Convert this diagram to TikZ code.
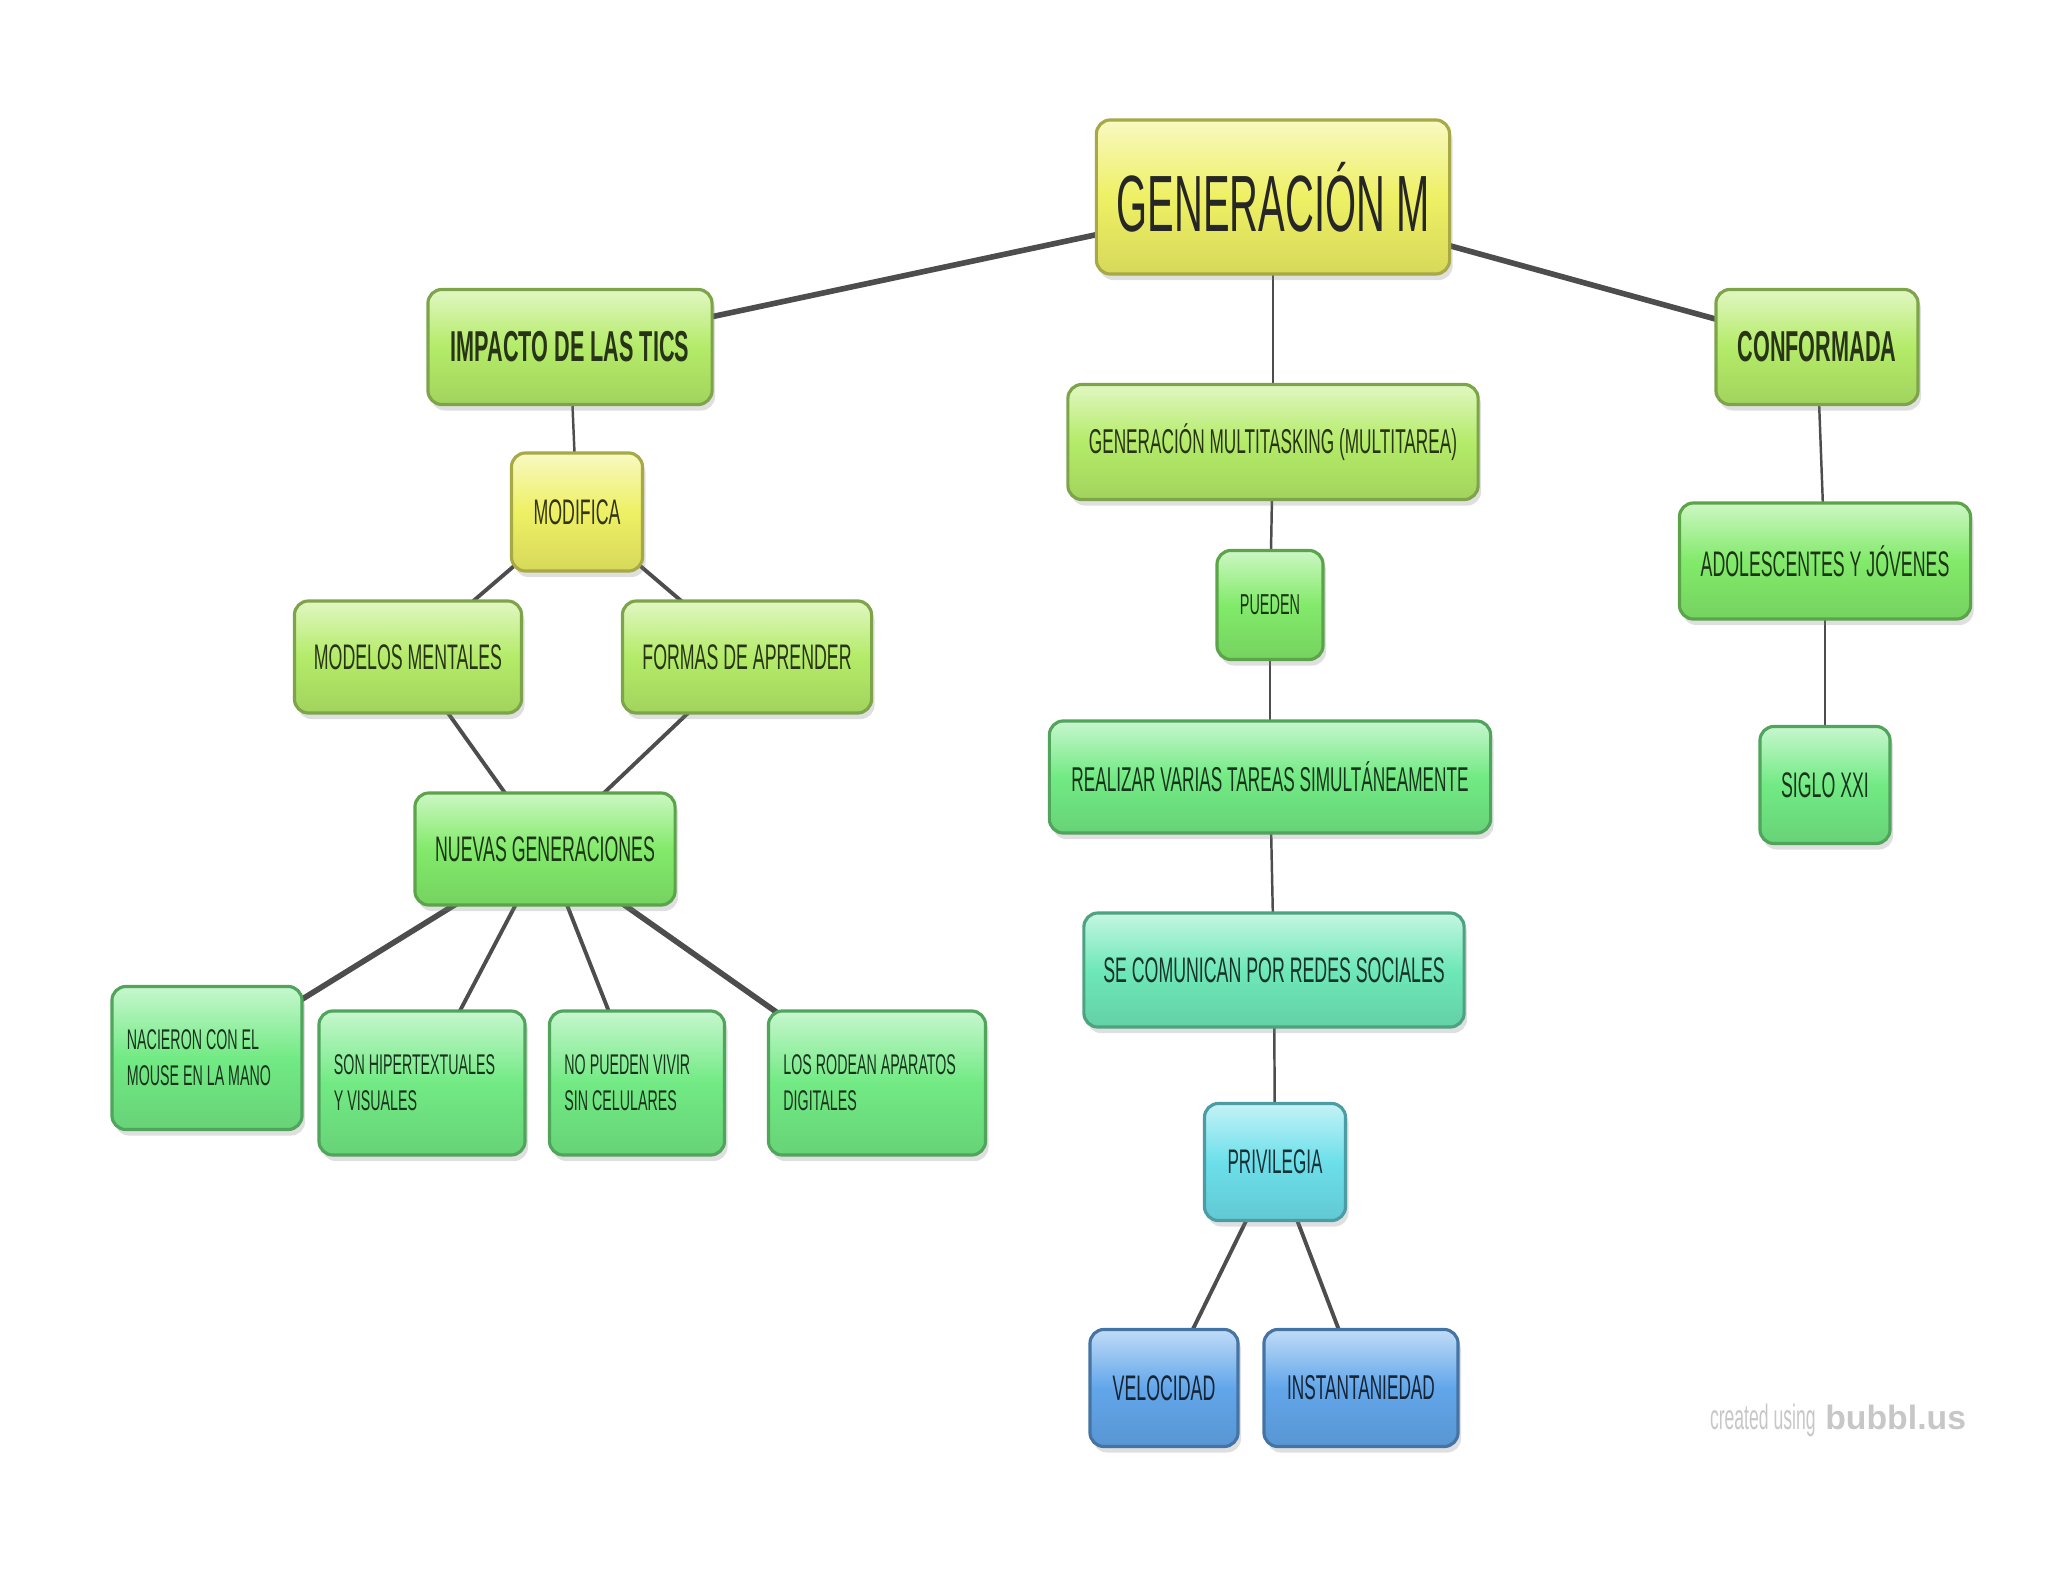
\documentclass[tikz,border=0pt]{standalone}
\usepackage{fontspec}
\setmainfont{Liberation Sans}
\newfontfamily\narrow{Liberation Sans}[FakeStretch=0.5]
\usetikzlibrary{backgrounds,shadows}

\definecolor{tyellow}{HTML}{EEF064}
\definecolor{tlime}{HTML}{B4EB68}
\definecolor{tgreen}{HTML}{82EA6A}
\definecolor{tleaf}{HTML}{72EA84}
\definecolor{tmint}{HTML}{6EE8B8}
\definecolor{tcyan}{HTML}{6CDFEA}
\definecolor{tblue}{HTML}{62A6EA}
\definecolor{linkgray}{HTML}{4D4D4D}

\tikzset{
  bubble/.style={draw=#1!70!black, line width=0.9pt, rounded corners=0.14cm,
    top color=#1!40!white, bottom color=#1!90!black, middle color=#1,
    drop shadow={opacity=0.25, shadow xshift=0.03cm, shadow yshift=-0.06cm},
    text=#1!22!black, inner sep=0pt, align=center,
    font=\narrow\fontsize{10.1}{11}\selectfont},
  level one/.style={font=\narrow\bfseries\fontsize{12.3}{14}\selectfont},
  leaf/.style={align=flush left, text width=#1, inner xsep=0.15cm,
    font=\narrow\fontsize{8.1}{10.3}\selectfont},
  link/.style={draw=linkgray, line width=1.1pt},
  thin link/.style={draw=linkgray, line width=0.7pt},
  heavy link/.style={draw=linkgray, line width=1.6pt}
}

\begin{document}
\begin{tikzpicture}[x=0.01cm, y=-0.01cm]
  \useasboundingbox (0,0) rectangle (2048,1582);

  % centre
  \node[bubble=tyellow, minimum width=3.53cm, minimum height=1.54cm,
        font=\narrow\fontsize{22.7}{26}\selectfont, text=black!85] (root) at (1273,197) {GENERACIÓN M};

  % rama izquierda
  \node[bubble=tlime, level one, minimum width=2.84cm, minimum height=1.15cm] (impacto) at (570,347) {IMPACTO DE LAS TICS};
  \node[bubble=tyellow, minimum width=1.31cm, minimum height=1.18cm] (modifica) at (577,512) {MODIFICA};
  \node[bubble=tlime, minimum width=2.27cm, minimum height=1.12cm] (modelos) at (408,657) {MODELOS MENTALES};
  \node[bubble=tlime, minimum width=2.49cm, minimum height=1.12cm] (formas) at (747,657) {FORMAS DE APRENDER};
  \node[bubble=tgreen, minimum width=2.60cm, minimum height=1.12cm] (nuevas) at (545,849) {NUEVAS GENERACIONES};
  \node[bubble=tleaf, leaf=1.60cm, minimum height=1.43cm] (nacieron) at (207,1058) {NACIERON CON EL\\MOUSE EN LA MANO};
  \node[bubble=tleaf, leaf=1.76cm, minimum height=1.44cm] (hipertext) at (422,1083) {SON HIPERTEXTUALES\\Y VISUALES};
  \node[bubble=tleaf, leaf=1.45cm, minimum height=1.44cm] (celulares) at (637,1083) {NO PUEDEN VIVIR\\SIN CELULARES};
  \node[bubble=tleaf, leaf=1.87cm, minimum height=1.44cm] (aparatos) at (877,1083) {LOS RODEAN APARATOS\\DIGITALES};

  % rama central
  \node[bubble=tlime, minimum width=4.10cm, minimum height=1.15cm, font=\narrow\fontsize{9.8}{11}\selectfont] (multi) at (1273,442) {GENERACIÓN MULTITASKING (MULTITAREA)};
  \node[bubble=tgreen, minimum width=1.06cm, minimum height=1.09cm, font=\narrow\fontsize{8.2}{9}\selectfont] (pueden) at (1270,605) {PUEDEN};
  \node[bubble=tleaf, minimum width=4.41cm, minimum height=1.12cm, font=\narrow\fontsize{9.8}{11}\selectfont] (tareas) at (1270,777) {REALIZAR VARIAS TAREAS SIMULTÁNEAMENTE};
  \node[bubble=tmint, minimum width=3.80cm, minimum height=1.14cm] (redes) at (1274,970) {SE COMUNICAN POR REDES SOCIALES};
  \node[bubble=tcyan, minimum width=1.41cm, minimum height=1.17cm, font=\narrow\fontsize{9.7}{11}\selectfont] (privilegia) at (1275,1162) {PRIVILEGIA};
  \node[bubble=tblue, minimum width=1.48cm, minimum height=1.17cm] (velocidad) at (1164,1388) {VELOCIDAD};
  \node[bubble=tblue, minimum width=1.94cm, minimum height=1.17cm, font=\narrow\fontsize{9.8}{11}\selectfont] (instant) at (1361,1388) {INSTANTANIEDAD};

  % rama derecha
  \node[bubble=tlime, level one, minimum width=2.02cm, minimum height=1.15cm] (conformada) at (1817,347) {CONFORMADA};
  \node[bubble=tgreen, minimum width=2.91cm, minimum height=1.16cm] (jovenes) at (1825,561) {ADOLESCENTES Y JÓVENES};
  \node[bubble=tleaf, minimum width=1.30cm, minimum height=1.17cm] (siglo) at (1825,785) {SIGLO XXI};

  \node[text=black!22, inner sep=0pt] (credit) at (1838,1420)
    {{\narrow\fontsize{10}{12}\selectfont created using} {\bfseries\fontsize{9.6}{12}\selectfont bubbl.us}};

  \begin{pgfonlayer}{background}
    \draw[heavy link] (root.center) -- (impacto.center);
    \draw[heavy link] (root.center) -- (conformada.center);
    \draw[thin link] (root.center) -- (multi.center);
    \draw[thin link] (impacto.center) -- (modifica.center);
    \draw[link] (modifica.center) -- (modelos.center);
    \draw[link] (modifica.center) -- (formas.center);
    \draw[link] (modelos.center) -- (nuevas.center);
    \draw[link] (formas.center) -- (nuevas.center);
    \draw[heavy link] (nuevas.center) -- (nacieron.center);
    \draw[link] (nuevas.center) -- (hipertext.center);
    \draw[link] (nuevas.center) -- (celulares.center);
    \draw[heavy link] (nuevas.center) -- (aparatos.center);
    \draw[thin link] (multi.center) -- (pueden.center);
    \draw[thin link] (pueden.center) -- (tareas.center);
    \draw[thin link] (tareas.center) -- (redes.center);
    \draw[thin link] (redes.center) -- (privilegia.center);
    \draw[link] (privilegia.center) -- (velocidad.center);
    \draw[link] (privilegia.center) -- (instant.center);
    \draw[thin link] (conformada.center) -- (jovenes.center);
    \draw[thin link] (jovenes.center) -- (siglo.center);
  \end{pgfonlayer}
\end{tikzpicture}
\end{document}
